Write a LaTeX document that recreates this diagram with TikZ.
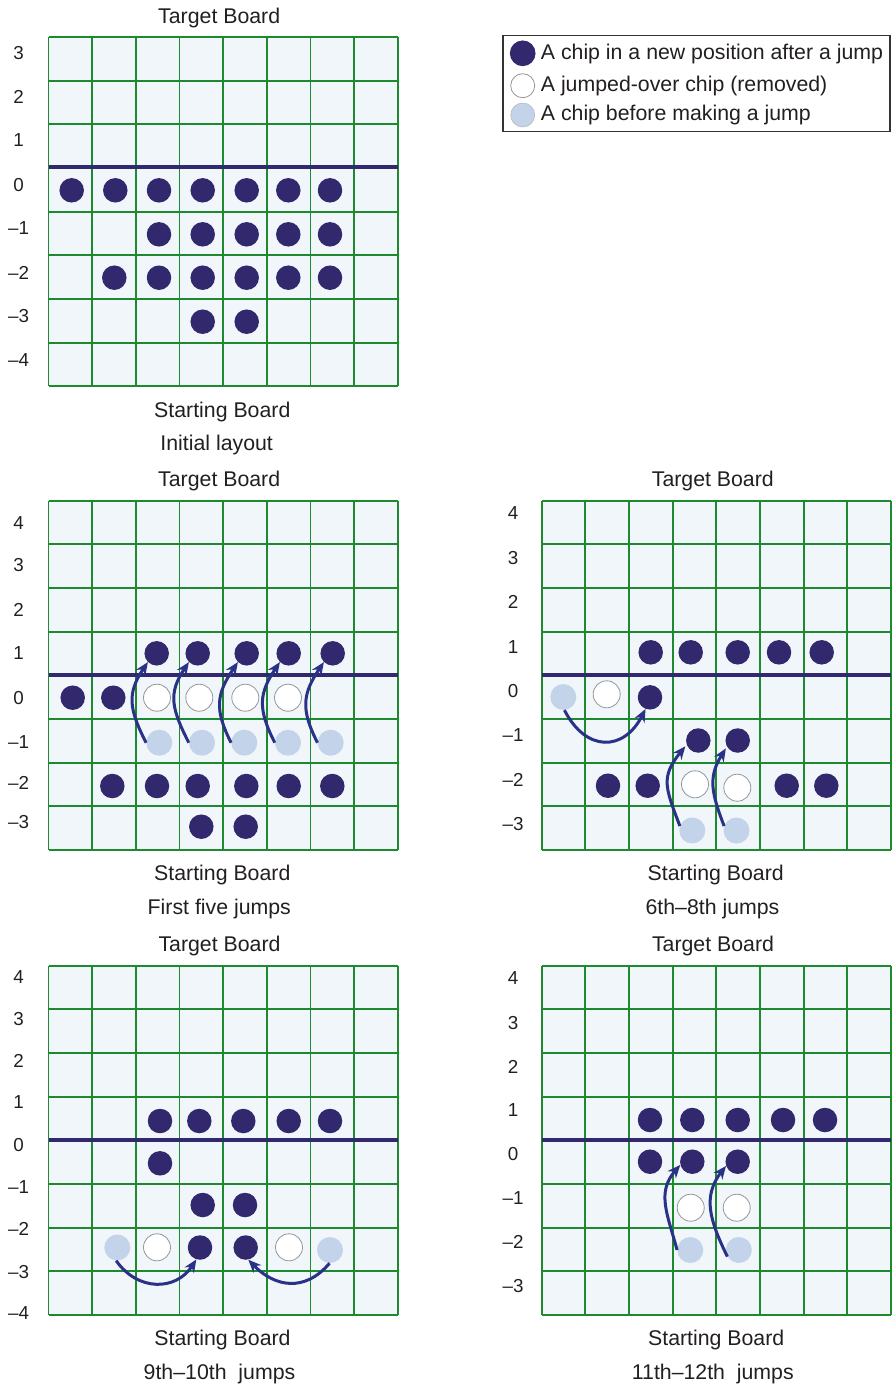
\documentclass[tikz,border=0pt]{standalone}
\usepackage{fontspec}
\setmainfont{Liberation Sans}
\usetikzlibrary{arrows.meta}
\definecolor{cellfill}{RGB}{240,246,250}
\definecolor{gridgreen}{RGB}{30,138,48}
\definecolor{navy}{RGB}{50,40,110}
\definecolor{arrowblue}{RGB}{42,50,135}
\definecolor{lightchip}{RGB}{195,211,234}
\definecolor{chipedge}{RGB}{150,150,150}
\definecolor{txt}{RGB}{35,31,32}
\newcommand{\drawboard}[2]{%
  \fill[cellfill] (#1,{-#2}) rectangle ++(349.3,-349.3);
  \foreach \i in {0,...,8}{
    \draw[gridc] ({#1+\i*43.66},{-#2}) -- ++(0,-349.3);
    \draw[gridc] (#1,{-#2-\i*43.66}) -- ++(349.3,0);
  }%
}
\begin{document}
\begin{tikzpicture}[x=1pt,y=1pt,
  gridc/.style={draw=gridgreen,line width=1.8pt},
  midline/.style={draw=navy,line width=4pt},
  dchip/.style={circle,fill=navy,inner sep=0pt,minimum size=24.5pt},
  wchip/.style={circle,fill=white,draw=chipedge,line width=0.8pt,inner sep=0pt,minimum size=27pt},
  lchip/.style={circle,fill=lightchip,inner sep=0pt,minimum size=26pt},
  jump/.style={draw=arrowblue,line width=3pt,-{Stealth[length=13pt,width=11pt]}},
  title/.style={font=\fontsize{21.3}{24}\selectfont,text=txt,anchor=base,inner sep=0pt},
  rowlab/.style={font=\fontsize{18.8}{20}\selectfont,text=txt,inner sep=0pt},
  legtext/.style={font=\fontsize{21.3}{24}\selectfont,text=txt,anchor=base west,inner sep=0pt},
]
\useasboundingbox (0,0) rectangle (893,-1385);

% ---------- boards ----------
\drawboard{48.5}{37}
\drawboard{48.5}{500.7}
\drawboard{541.7}{500.7}
\drawboard{48.5}{965.7}
\drawboard{541.7}{965.7}

\draw[midline] (48.5,-166.5) -- (397.8,-166.5);
\draw[midline] (48.5,-674.8) -- (397.8,-674.8);
\draw[midline] (541.7,-675) -- (891,-675);
\draw[midline] (48.5,-1140) -- (397.8,-1140);
\draw[midline] (541.7,-1140) -- (891,-1140);

% ---------- row labels ----------
\foreach \t/\y [count=\i] in {3/53,2/97,1/140,0/185.5,–1/228.3,–2/272.5,–3/316.3,–4/360}
  \node[rowlab] (ra\i) at (18.7,-\y) {\t};
\foreach \t/\y [count=\i] in {4/522.7,3/565,2/609.7,1/653.3,0/697.8,–1/741.7,–2/783,–3/822}
  \node[rowlab] (rb\i) at (18.7,-\y) {\t};
\foreach \t/\y [count=\i] in {4/513,3/558.3,2/602,1/646.7,0/691.3,–1/735.3,–2/780.3,–3/823.7}
  \node[rowlab] (rc\i) at (513,-\y) {\t};
\foreach \t/\y [count=\i] in {4/977,3/1019,2/1061.3,1/1102.5,0/1145.3,–1/1186.8,–2/1229.2,–3/1271.7,–4/1313}
  \node[rowlab] (rd\i) at (18.7,-\y) {\t};
\foreach \t/\y [count=\i] in {4/978.3,3/1023,2/1067,1/1110.3,0/1154.5,–1/1198.3,–2/1242,–3/1286.2}
  \node[rowlab] (re\i) at (513,-\y) {\t};

% ---------- titles ----------
\node[title] (ta) at (219.2,-23.3) {Target Board};
\node[title] (sa) at (222.3,-417.3) {Starting Board};
\node[title] (ca) at (216.7,-450) {Initial layout};
\node[title] (tb) at (219.2,-486.7) {Target Board};
\node[title] (sb) at (222.3,-880.7) {Starting Board};
\node[title] (cb) at (219.3,-914) {First five jumps};
\node[title] (tc) at (712.8,-486.7) {Target Board};
\node[title] (sc) at (715.7,-880.7) {Starting Board};
\node[title] (cc) at (712.5,-914) {6th–8th jumps};
\node[title] (td) at (219.5,-951.7) {Target Board};
\node[title] (sd) at (222.5,-1345.7) {Starting Board};
\node[title] (cd) at (219.5,-1379) {9th–10th\ \ jumps};
\node[title] (te) at (713,-951.7) {Target Board};
\node[title] (se) at (716.2,-1345.7) {Starting Board};
\node[title] (ce) at (712.8,-1379) {11th–12th\ \ jumps};

% ---------- legend ----------
\node[draw=black!80,line width=1.2pt,fill=white,minimum width=387pt,minimum height=96pt,
      anchor=north west,inner sep=0pt] (legend) at (502.3,-35) {};
\node[dchip,minimum size=25.7pt] (lg1) at (522.7,-53.3) {};
\node[wchip,minimum size=24pt] (lg2) at (522.7,-85.7) {};
\node[lchip,draw=chipedge!70,line width=0.5pt,minimum size=24pt] (lg3) at (522.7,-115) {};
\node[legtext] (lt1) at (540.7,-59) {A chip in a new position after a jump};
\node[legtext] (lt2) at (540.7,-91) {A jumped-over chip (removed)};
\node[legtext] (lt3) at (540.7,-120) {A chip before making a jump};

% ---------- panel 1: initial layout ----------
\begin{scope}[every node/.append style={minimum size=23.3pt}]
\foreach \x [count=\i] in {71.7,115.3,159,202.7,246.7,288.3,330}
  \node[dchip] (pa0-\i) at (\x,-190.3) {};
\foreach \x [count=\i] in {159,202.7,246.7,288.3,330}
  \node[dchip] (pa1-\i) at (\x,-234.3) {};
\foreach \x [count=\i] in {114.3,159,202.7,246.7,288.3,330}
  \node[dchip] (pa2-\i) at (\x,-277.7) {};
\foreach \x [count=\i] in {202.7,246.7}
  \node[dchip] (pa3-\i) at (\x,-321.7) {};
\end{scope}

% ---------- panel 2: first five jumps ----------
\foreach \x/\n in {156.7/a,197.7/b,246.7/c,288.7/d,332.7/e}
  \node[dchip] (d2\n) at (\x,-653.3) {};
\node[dchip] (d2f) at (72.7,-697.7) {};
\node[dchip] (d2g) at (113.3,-697.7) {};
\foreach \x/\n in {157/a,199.3/b,245.3/c,288/d}
  \node[wchip] (w2\n) at (\x,-697.7) {};
\foreach \x/\n in {159.3/a,202/b,244.3/c,288/d,330.7/e}
  \node[lchip] (l2\n) at (\x,-742.7) {};
\foreach \x/\n in {112.3/a,157/b,197.7/c,246.3/d,288.7/e,332.3/f}
  \node[dchip] (r2\n) at (\x,-786) {};
\node[dchip] (s2a) at (201.3,-826.7) {};
\node[dchip] (s2b) at (245.7,-826.7) {};
\foreach \n in {a,b,c,d,e}
  \draw[jump] (l2\n.west) to[out=117,in=-124,looseness=1.2] (d2\n.225);

% ---------- panel 3: 6th-8th jumps ----------
\foreach \x/\n in {650.7/a,690.7/b,737.7/c,779/d,821.7/e}
  \node[dchip] (d3\n) at (\x,-652.3) {};
\node[lchip] (l3a) at (563.3,-697) {};
\node[wchip] (w3a) at (606.7,-694.3) {};
\node[dchip] (d3f) at (650,-697.3) {};
\node[dchip] (m3a) at (698.3,-740.5) {};
\node[dchip] (m3b) at (737.7,-740.5) {};
\node[dchip] (r3a) at (608,-785.7) {};
\node[dchip] (r3b) at (647.7,-785.7) {};
\node[wchip] (w3b) at (695,-784.3) {};
\node[wchip] (w3c) at (737.3,-787.7) {};
\node[dchip] (r3c) at (786.7,-785.7) {};
\node[dchip] (r3d) at (826.3,-785.7) {};
\node[lchip] (l3b) at (692.3,-830.5) {};
\node[lchip] (l3c) at (736.5,-830.5) {};
\draw[jump] (l3a.-85) to[out=-63,in=-117,looseness=1.5] (d3f.-111);
\draw[jump,shorten >=2pt] (l3b.160) to[out=111,in=-129,looseness=1.3] (m3a.200);
\draw[jump,shorten >=2pt] (l3c.160) to[out=111,in=-122,looseness=1.15] (m3b.210);

% ---------- panel 4: 9th-10th jumps ----------
\foreach \x/\n in {160/a,199.3/b,243.3/c,288.7/d,330/e}
  \node[dchip] (d4\n) at (\x,-1121) {};
\node[dchip] (e4a) at (160,-1163.3) {};
\node[dchip] (m4a) at (202.7,-1205) {};
\node[dchip] (m4b) at (245,-1205) {};
\node[lchip] (l4a) at (117.3,-1247.5) {};
\node[wchip] (w4a) at (157,-1247.3) {};
\node[dchip] (n4a) at (200,-1247.5) {};
\node[dchip] (n4b) at (245.7,-1247.5) {};
\node[wchip] (w4b) at (289,-1247.3) {};
\node[lchip] (l4b) at (330,-1250) {};
\draw[jump] (l4a.-95) to[out=-55,in=-123,looseness=1.2] (n4a.-107);
\draw[jump] (l4b.-92) to[out=-130,in=-46,looseness=1.2] (n4b.-78);

% ---------- panel 5: 11th-12th jumps ----------
\foreach \x/\n in {650/a,692.3/b,737.7/c,783/d,825/e}
  \node[dchip] (d5\n) at (\x,-1120) {};
\node[dchip] (e5a) at (650,-1161.7) {};
\node[dchip] (e5b) at (692.3,-1161.7) {};
\node[dchip] (e5c) at (737.7,-1161.7) {};
\node[wchip] (w5a) at (690.7,-1207.7) {};
\node[wchip] (w5b) at (736.7,-1207.7) {};
\node[lchip] (l5a) at (690.3,-1250) {};
\node[lchip] (l5b) at (738.8,-1250) {};
\draw[jump] (l5a.180) to[out=105,in=-131,looseness=1.1] (e5b.195);
\draw[jump] (l5b.210) to[out=116,in=-128,looseness=1.1] (e5c.200);
\end{tikzpicture}
\end{document}
